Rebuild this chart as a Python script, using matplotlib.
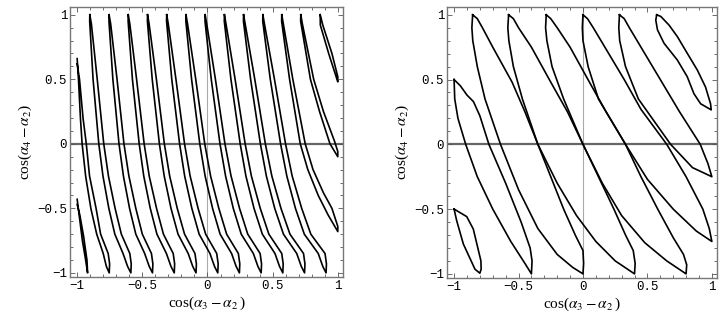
import matplotlib
matplotlib.use("Agg")
import matplotlib.pyplot as plt
from matplotlib.ticker import MultipleLocator, FixedLocator

# ---- data: closed loops as (x, y) vertices ----

# left panel: long thin leaves, down the left side then up the right side
leaf_y_down = [1.0, 0.95, 0.5, 0.0, -0.25, -0.5, -0.7, -0.85, -0.95, -1.0]
leaf_y_up = [-1.0, -0.93, -0.85, -0.7, -0.5, -0.25, 0.0, 0.5, 0.93, 1.0]

leaf_x_down = [
    [-0.903, -0.904, -0.878, -0.834, -0.802, -0.757, -0.711, -0.648, -0.613, -0.588],
    [-0.755, -0.756, -0.726, -0.679, -0.645, -0.598, -0.550, -0.482, -0.447, -0.422],
    [-0.608, -0.609, -0.576, -0.524, -0.489, -0.439, -0.388, -0.315, -0.280, -0.255],
    [-0.460, -0.461, -0.424, -0.369, -0.332, -0.280, -0.226, -0.148, -0.113, -0.088],
    [-0.313, -0.314, -0.274, -0.214, -0.175, -0.120, -0.064, 0.019, 0.054, 0.079],
    [-0.165, -0.166, -0.122, -0.059, -0.018, 0.039, 0.097, 0.185, 0.220, 0.245],
    [-0.018, -0.019, 0.029, 0.096, 0.139, 0.198, 0.259, 0.352, 0.387, 0.412],
    [0.130, 0.129, 0.180, 0.251, 0.295, 0.357, 0.421, 0.518, 0.553, 0.578],
    [0.277, 0.276, 0.331, 0.406, 0.452, 0.516, 0.583, 0.685, 0.720, 0.745],
    [0.425, 0.424, 0.482, 0.561, 0.609, 0.675, 0.743, 0.850, 0.885, 0.910],
]
leaf_x_up = [
    [-0.588, -0.585, -0.596, -0.661, -0.709, -0.760, -0.796, -0.846, -0.891, -0.903],
    [-0.422, -0.419, -0.430, -0.500, -0.550, -0.603, -0.641, -0.694, -0.743, -0.755],
    [-0.255, -0.252, -0.263, -0.338, -0.391, -0.447, -0.486, -0.544, -0.596, -0.608],
    [-0.088, -0.085, -0.096, -0.176, -0.232, -0.290, -0.331, -0.392, -0.448, -0.460],
    [0.079, 0.082, 0.071, -0.014, -0.072, -0.133, -0.176, -0.242, -0.301, -0.313],
    [0.245, 0.248, 0.237, 0.147, 0.087, 0.024, -0.021, -0.090, -0.153, -0.165],
    [0.412, 0.415, 0.404, 0.309, 0.246, 0.181, 0.134, 0.061, -0.006, -0.018],
    [0.578, 0.581, 0.570, 0.471, 0.405, 0.337, 0.289, 0.212, 0.142, 0.130],
    [0.745, 0.748, 0.737, 0.633, 0.564, 0.494, 0.444, 0.363, 0.289, 0.277],
    [0.910, 0.913, 0.902, 0.793, 0.723, 0.650, 0.599, 0.514, 0.437, 0.425],
]

# leaves cut by the frame edges
left_edge_loops = [
    [(-1.0, 0.66), (-0.99, 0.5), (-0.975, 0.2), (-0.962, 0.0), (-0.935, -0.25),
     (-0.895, -0.5), (-0.85, -0.7), (-0.80, -0.85), (-0.776, -0.95), (-0.754, -1.0),
     (-0.751, -0.93), (-0.762, -0.85), (-0.82, -0.7), (-0.855, -0.5),
     (-0.905, -0.25), (-0.93, 0.0), (-0.955, 0.2), (-0.982, 0.5), (-1.0, 0.62)],
    [(-1.0, -0.43), (-0.985, -0.55), (-0.96, -0.75), (-0.935, -0.9), (-0.92, -1.0),
     (-0.925, -0.9), (-0.95, -0.72), (-0.98, -0.55), (-1.0, -0.47)],
    [(0.570, 1.0), (0.569, 0.95), (0.630, 0.5), (0.712, 0.0), (0.770, -0.2),
     (0.850, -0.4), (0.925, -0.55), (1.0, -0.68), (1.0, -0.64), (0.955, -0.5),
     (0.890, -0.38), (0.810, -0.2), (0.750, 0.0), (0.655, 0.5), (0.582, 0.93),
     (0.570, 1.0)],
    [(0.716, 1.0), (0.715, 0.95), (0.790, 0.5), (0.860, 0.25), (0.940, 0.0),
     (1.0, -0.10), (1.0, -0.06), (0.975, 0.02), (0.890, 0.25), (0.815, 0.5),
     (0.728, 0.93), (0.716, 1.0)],
    [(0.865, 1.0), (0.866, 0.92), (0.930, 0.7), (1.0, 0.48), (1.0, 0.52),
     (0.955, 0.7), (0.885, 0.92), (0.865, 1.0)],
]

# right panel
right_loops = [
    # small loop, lower left
    [(-1.0, -0.5), (-0.902, -0.558), (-0.851, -0.654), (-0.792, -0.899),
     (-0.79, -0.964), (-0.80, -0.995), (-0.838, -0.964), (-0.928, -0.77),
     (-0.98, -0.589), (-1.0, -0.5)],
    # small loop, upper right
    [(0.572, 1.0), (0.604, 0.987), (0.668, 0.92), (0.732, 0.832), (0.809, 0.703),
     (0.887, 0.574), (0.951, 0.442), (0.99, 0.313), (0.995, 0.266),
     (0.913, 0.313), (0.861, 0.391), (0.809, 0.522), (0.732, 0.651),
     (0.629, 0.78), (0.578, 0.884), (0.565, 0.959), (0.572, 1.0)],
    # loop from the left edge
    [(-1.0, 0.5), (-0.95, 0.45), (-0.9, 0.38), (-0.85, 0.33), (-0.8, 0.22),
     (-0.73, 0.0), (-0.6, -0.3), (-0.48, -0.6), (-0.41, -0.8), (-0.395, -0.9),
     (-0.4, -1.0), (-0.45, -0.92), (-0.56, -0.75), (-0.7, -0.5), (-0.82, -0.25),
     (-0.91, 0.0), (-0.97, 0.2), (-0.995, 0.35), (-1.0, 0.5)],
    [(-0.856, 1.0), (-0.82, 0.97), (-0.78, 0.9), (-0.70, 0.75), (-0.55, 0.48),
     (-0.45, 0.25), (-0.35, 0.0), (-0.25, -0.25), (-0.15, -0.5), (-0.06, -0.7),
     (0.0, -0.82), (0.005, -0.92), (0.0, -1.0), (-0.08, -0.95), (-0.2, -0.85),
     (-0.35, -0.65), (-0.5, -0.35), (-0.64, 0.0), (-0.76, 0.35), (-0.82, 0.6),
     (-0.855, 0.8), (-0.862, 0.9), (-0.856, 1.0)],
    [(-0.577, 1.0), (-0.54, 0.97), (-0.5, 0.9), (-0.4, 0.75), (-0.25, 0.48),
     (-0.12, 0.25), (0.0, 0.0), (0.12, -0.25), (0.24, -0.5), (0.33, -0.7),
     (0.39, -0.82), (0.405, -0.92), (0.4, -1.0), (0.25, -0.9), (0.1, -0.75),
     (-0.05, -0.55), (-0.2, -0.3), (-0.35, 0.0), (-0.47, 0.35), (-0.54, 0.6),
     (-0.575, 0.8), (-0.583, 0.9), (-0.577, 1.0)],
    [(-0.285, 1.0), (-0.25, 0.97), (-0.2, 0.9), (-0.1, 0.75), (0.05, 0.48),
     (0.18, 0.25), (0.33, 0.0), (0.45, -0.25), (0.58, -0.5), (0.7, -0.72),
     (0.78, -0.85), (0.805, -0.93), (0.8, -1.0), (0.65, -0.9), (0.48, -0.76),
     (0.3, -0.55), (0.15, -0.3), (0.0, 0.0), (-0.15, 0.35), (-0.24, 0.6),
     (-0.28, 0.8), (-0.29, 0.9), (-0.285, 1.0)],
    [(0.0, 1.0), (0.035, 0.97), (0.08, 0.9), (0.17, 0.75), (0.32, 0.5),
     (0.45, 0.27), (0.65, 0.0), (0.8, -0.25), (0.93, -0.5), (0.98, -0.65),
     (1.0, -0.75), (0.88, -0.67), (0.7, -0.5), (0.5, -0.27), (0.33, 0.0),
     (0.12, 0.35), (0.04, 0.6), (0.0, 0.8), (-0.005, 0.9), (0.0, 1.0)],
    [(0.283, 1.0), (0.32, 0.97), (0.36, 0.9), (0.45, 0.75), (0.6, 0.5),
     (0.75, 0.25), (0.91, 0.0), (0.97, -0.15), (1.0, -0.25), (0.85, -0.18),
     (0.68, 0.0), (0.43, 0.35), (0.33, 0.6), (0.285, 0.8), (0.278, 0.9),
     (0.283, 1.0)],
]

ticks = [-1, -0.5, 0, 0.5, 1]
tick_labels = ["\u22121", "\u22120.5", "0", "0.5", "1"]
x_label = r"cos($\alpha_3 - \alpha_2\,$)"
y_label = r"cos($\alpha_4 - \alpha_2$)"

plt.rcParams["mathtext.fontset"] = "stix"

fig = plt.figure(figsize=(7.27, 3.27), dpi=100)
ax_l = fig.add_axes([70 / 727, 50 / 327, 273 / 727, 270 / 327])
ax_r = fig.add_axes([447 / 727, 49 / 327, 270 / 727, 271 / 327])

# left panel curves
for xd, xu in zip(leaf_x_down, leaf_x_up):
    ax_l.plot(xd + xu, leaf_y_down + leaf_y_up, color="black", lw=1.2,
              solid_joinstyle="round", zorder=3)
for loop in left_edge_loops:
    ax_l.plot([p[0] for p in loop], [p[1] for p in loop], color="black", lw=1.2,
              solid_joinstyle="round", zorder=3)

# right panel curves
for loop in right_loops:
    ax_r.plot([p[0] for p in loop], [p[1] for p in loop], color="black", lw=1.2,
              solid_joinstyle="round", zorder=3)

for ax in (ax_l, ax_r):
    # coordinate axes through the origin
    ax.axvline(0, color="#aaaaaa", lw=0.8, zorder=1)
    ax.axhline(0, color="#666666", lw=1.6, zorder=1)

    ax.set_xlim(-1.055, 1.04)
    ax.set_ylim(-1.032, 1.06)
    ax.xaxis.set_major_locator(FixedLocator(ticks))
    ax.yaxis.set_major_locator(FixedLocator(ticks))
    ax.xaxis.set_minor_locator(MultipleLocator(0.1))
    ax.yaxis.set_minor_locator(MultipleLocator(0.1))
    ax.set_xticklabels(tick_labels, family="Liberation Mono", fontsize=9)
    ax.set_yticklabels(tick_labels, family="Liberation Mono", fontsize=9)
    ax.tick_params(which="both", direction="in", top=True, right=True,
                   color="#555555", width=0.6)
    ax.tick_params(which="major", length=3.5, pad=2)
    ax.tick_params(which="minor", length=2)
    for s in ax.spines.values():
        s.set_color("#777777")
        s.set_linewidth(1.0)
    ax.set_xlabel(x_label, family="Liberation Serif", fontsize=11, labelpad=2)
    ax.set_ylabel(y_label, family="Liberation Serif", fontsize=11, labelpad=2)

fig.savefig("out.png", dpi=100)
